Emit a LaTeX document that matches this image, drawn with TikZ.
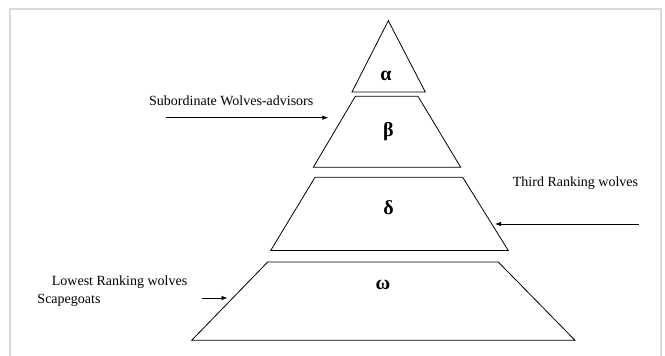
\documentclass[tikz,border=0pt]{standalone}
\usepackage{fontspec}
\setmainfont{Liberation Serif}
\usetikzlibrary{arrows.meta}
\begin{document}
\begin{tikzpicture}[x=1pt,y=-1pt,
  tier/.style={draw=black,line width=0.8pt,line join=miter},
  lbl/.style={font=\fontsize{14}{16}\selectfont, inner sep=0pt, anchor=base west},
  greek/.style={font=\fontsize{20}{22}\selectfont\bfseries, inner sep=0pt},
  pointer/.style={draw=black, line width=0.7pt, -{Latex[length=6pt,width=4.5pt]}},
  frameline/.style={draw=black!15, line width=2pt}]
\useasboundingbox (0,0) rectangle (665,356);
\draw[frameline] (9.5,357) -- (9.5,9) -- (661,9) -- (661,357);
% tiers
\draw[tier] (388.3,20.7) -- (425.3,92) -- (352,92) -- cycle;
\draw[tier] (355.3,96.3) -- (418,96.3) -- (460.7,167.3) -- (313.3,167.3) -- cycle;
\draw[tier] (315,177.3) -- (462.7,177.3) -- (508.3,250.5) -- (270.7,250.5) -- cycle;
\draw[tier] (267.7,262) -- (498.3,262) -- (575,340.3) -- (191.7,340.3) -- cycle;
% greek labels
\node[greek] (alpha) at (386,76) {α};
\node[greek] (beta) at (388.5,132) {β};
\node[greek] (delta) at (388.5,208) {δ};
\node[greek] (omega) at (383,285) {ω};
% side labels
\node[lbl] (sub) at (149,105) {Subordinate Wolves-advisors};
\node[lbl] (third) at (512.7,186) {Third Ranking wolves};
\node[lbl] (lowest) at (51.7,285) {Lowest Ranking wolves};
\node[lbl] (scape) at (37.3,303.3) {Scapegoats};
% arrows
\coordinate (subTail) at (165.7,117.7);
\coordinate (subTip) at (328.3,117.7);
\coordinate (thirdTail) at (639,224);
\coordinate (thirdTip) at (495,224);
\coordinate (lowTail) at (201.7,298);
\coordinate (lowTip) at (227.5,298);
\draw[pointer] (subTail) -- (subTip);
\draw[pointer] (thirdTail) -- (thirdTip);
\draw[pointer] (lowTail) -- (lowTip);
\end{tikzpicture}
\end{document}
